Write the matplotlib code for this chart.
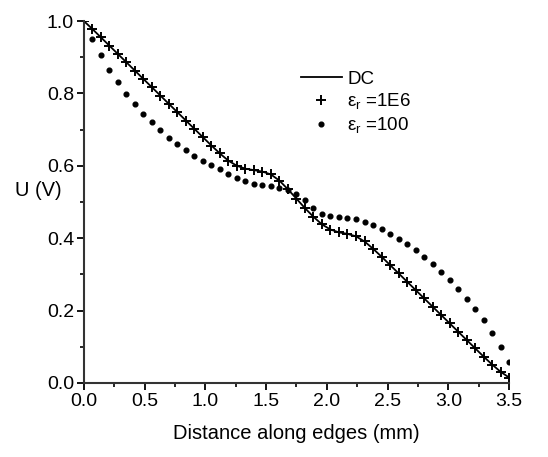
import matplotlib
matplotlib.use("Agg")
import matplotlib.pyplot as plt
import numpy as np
from matplotlib.ticker import MultipleLocator

plt.rcParams['font.family'] = ['Liberation Sans', 'DejaVu Sans']
plt.rcParams['mathtext.fontset'] = 'custom'
plt.rcParams['mathtext.rm'] = 'Liberation Sans'
plt.rcParams['mathtext.it'] = 'Liberation Sans'

# distance along edges (mm)
x_dc = [0.00, 0.07, 0.14, 0.21, 0.28, 0.35, 0.42, 0.49, 0.56, 0.63,
        0.70, 0.77, 0.84, 0.91, 0.98, 1.05, 1.12, 1.19, 1.26, 1.33,
        1.40, 1.47, 1.54, 1.61, 1.68, 1.75, 1.82, 1.89, 1.96, 2.03,
        2.10, 2.17, 2.24, 2.31, 2.38, 2.45, 2.52, 2.59, 2.66, 2.73,
        2.80, 2.87, 2.94, 3.01, 3.08, 3.15, 3.22, 3.29, 3.36, 3.43, 3.50]
# DC potential, also eps_r = 1E6 (same curve)
u_dc = [1.000, 0.978, 0.955, 0.932, 0.909, 0.886, 0.863, 0.840, 0.817, 0.794,
        0.771, 0.748, 0.725, 0.702, 0.679, 0.656, 0.634, 0.614, 0.600, 0.592,
        0.588, 0.584, 0.576, 0.559, 0.535, 0.509, 0.483, 0.459, 0.438, 0.424,
        0.416, 0.412, 0.405, 0.391, 0.371, 0.349, 0.326, 0.303, 0.280, 0.257,
        0.234, 0.211, 0.188, 0.165, 0.142, 0.119, 0.096, 0.073, 0.051, 0.031, 0.015]

# eps_r = 100
x_100 = x_dc[1:]
u_100 = [0.950, 0.905, 0.866, 0.831, 0.799, 0.770, 0.744, 0.720, 0.698,
         0.678, 0.660, 0.643, 0.628, 0.614, 0.601, 0.590, 0.578, 0.566, 0.557,
         0.550, 0.546, 0.543, 0.540, 0.533, 0.522, 0.505, 0.484, 0.468, 0.462,
         0.459, 0.456, 0.452, 0.446, 0.436, 0.425, 0.412, 0.398, 0.383, 0.366,
         0.348, 0.328, 0.307, 0.284, 0.259, 0.233, 0.205, 0.174, 0.138, 0.099, 0.057]

fig = plt.figure(figsize=(5.48, 4.57), dpi=100)
ax = fig.add_axes([0.153, 0.162, 0.776, 0.792])

ax.plot(x_dc, u_dc, color='black', lw=1.3, label='DC')
ax.plot(x_dc, u_dc, ls='none', marker='+', ms=7, mew=1.4, color='black',
        label=r'$\varepsilon_r$ =1E6')
ax.plot(x_100, u_100, ls='none', marker='o', ms=3.4, color='black',
        label=r'$\varepsilon_r$ =100')

ax.set_xlim(0, 3.5)
ax.set_ylim(0, 1.0)
ax.xaxis.set_major_locator(MultipleLocator(0.5))
ax.xaxis.set_minor_locator(MultipleLocator(0.25))
ax.yaxis.set_major_locator(MultipleLocator(0.2))
ax.yaxis.set_minor_locator(MultipleLocator(0.1))
ax.xaxis.set_major_formatter(plt.FormatStrFormatter('%.1f'))
ax.yaxis.set_major_formatter(plt.FormatStrFormatter('%.1f'))

for s in ['top', 'right']:
    ax.spines[s].set_visible(False)
for s in ['left', 'bottom']:
    ax.spines[s].set_linewidth(1.5)
    ax.spines[s].set_color('#333333')

ax.tick_params(which='major', direction='out', length=5, width=1.3,
               labelsize=14, pad=2)
ax.tick_params(which='minor', direction='out', length=3, width=1.2)

ax.set_xlabel('Distance along edges (mm)', fontsize=14.5, labelpad=10)
ax.set_ylabel('U (V)', fontsize=14.5, rotation=0, ha='center', va='center')
ax.yaxis.set_label_coords(-0.108, 0.532)

ax.legend(loc='upper left', bbox_to_anchor=(0.47, 0.91), frameon=False,
          fontsize=13.5, handlelength=2.2, handletextpad=0.3, labelspacing=0.2)

fig.savefig('out.png', dpi=100)
